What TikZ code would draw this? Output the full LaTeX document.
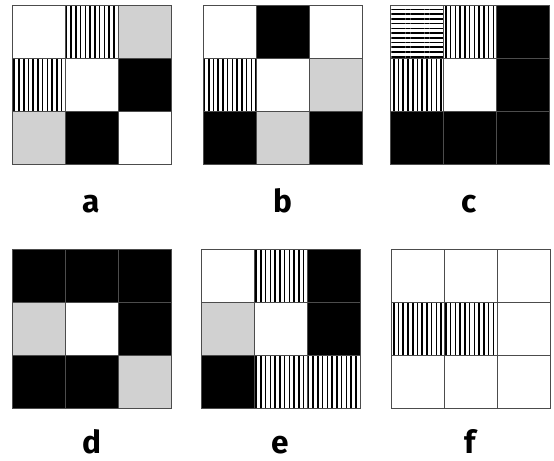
\documentclass[tikz,border=0pt]{standalone}
\usepackage{fontspec}
\setmainfont{Fira Sans}
\usetikzlibrary{patterns,patterns.meta}

\begin{document}
\begin{tikzpicture}[x=.02cm,y=-.02cm,
  cell/.style={draw=black!70,line width=.5pt},
  wcell/.style={cell,fill=white},
  kcell/.style={cell,fill=black},
  gcell/.style={cell,fill=black!18},
  vcell/.style={cell,preaction={fill=white,draw=none},pattern={Lines[angle=90,distance=2.7pt,line width=.9pt]},pattern color=black},
  hcell/.style={cell,preaction={fill=white,draw=none},pattern={Lines[angle=0,distance=2.7pt,line width=.9pt]},pattern color=black},
  lbl/.style={anchor=base,font=\fontsize{18}{21}\selectfont\bfseries}]
\useasboundingbox[fill=white] (0,0) rectangle (554,460);
% panel a
\path[wcell] (12,5) rectangle (65,58);
\path[vcell] (65,5) rectangle (118,58);
\path[gcell] (118,5) rectangle (171,58);
\path[vcell] (12,58) rectangle (65,111);
\path[wcell] (65,58) rectangle (118,111);
\path[kcell] (118,58) rectangle (171,111);
\path[gcell] (12,111) rectangle (65,164);
\path[kcell] (65,111) rectangle (118,164);
\path[wcell] (118,111) rectangle (171,164);
\node[lbl] (la) at (91.5,212) {a};
% panel b
\path[wcell] (203,5) rectangle (256,58);
\path[kcell] (256,5) rectangle (309,58);
\path[wcell] (309,5) rectangle (362,58);
\path[vcell] (203,58) rectangle (256,111);
\path[wcell] (256,58) rectangle (309,111);
\path[gcell] (309,58) rectangle (362,111);
\path[kcell] (203,111) rectangle (256,164);
\path[gcell] (256,111) rectangle (309,164);
\path[kcell] (309,111) rectangle (362,164);
\node[lbl] (lb) at (282.5,212) {b};
% panel c
\path[hcell] (390,5) rectangle (443,58);
\path[vcell] (443,5) rectangle (496,58);
\path[kcell] (496,5) rectangle (549,58);
\path[vcell] (390,58) rectangle (443,111);
\path[wcell] (443,58) rectangle (496,111);
\path[kcell] (496,58) rectangle (549,111);
\path[kcell] (390,111) rectangle (443,164);
\path[kcell] (443,111) rectangle (496,164);
\path[kcell] (496,111) rectangle (549,164);
\node[lbl] (lc) at (469.5,212) {c};
% panel d
\path[kcell] (12,249) rectangle (65,302);
\path[kcell] (65,249) rectangle (118,302);
\path[kcell] (118,249) rectangle (171,302);
\path[gcell] (12,302) rectangle (65,355);
\path[wcell] (65,302) rectangle (118,355);
\path[kcell] (118,302) rectangle (171,355);
\path[kcell] (12,355) rectangle (65,408);
\path[kcell] (65,355) rectangle (118,408);
\path[gcell] (118,355) rectangle (171,408);
\node[lbl] (ld) at (91.5,453) {d};
% panel e
\path[wcell] (201,249) rectangle (254,302);
\path[vcell] (254,249) rectangle (307,302);
\path[kcell] (307,249) rectangle (360,302);
\path[gcell] (201,302) rectangle (254,355);
\path[wcell] (254,302) rectangle (307,355);
\path[kcell] (307,302) rectangle (360,355);
\path[kcell] (201,355) rectangle (254,408);
\path[vcell] (254,355) rectangle (307,408);
\path[vcell] (307,355) rectangle (360,408);
\node[lbl] (le) at (280.5,453) {e};
% panel f
\path[wcell] (391,249) rectangle (444,302);
\path[wcell] (444,249) rectangle (497,302);
\path[wcell] (497,249) rectangle (550,302);
\path[vcell] (391,302) rectangle (444,355);
\path[vcell] (444,302) rectangle (497,355);
\path[wcell] (497,302) rectangle (550,355);
\path[wcell] (391,355) rectangle (444,408);
\path[wcell] (444,355) rectangle (497,408);
\path[wcell] (497,355) rectangle (550,408);
\node[lbl] (lf) at (470.5,453) {f};
\end{tikzpicture}
\end{document}
